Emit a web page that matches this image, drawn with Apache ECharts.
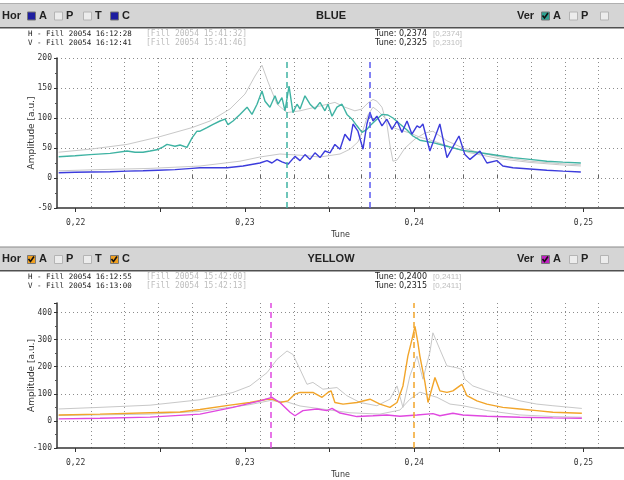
<!DOCTYPE html>
<html><head><meta charset="utf-8">
<script src="https://cdn.jsdelivr.net/npm/echarts@6/dist/echarts.min.js"></script>
<style>html,body{margin:0;padding:0;background:#fff}#c{width:624px;height:480px}</style>
</head><body><div id="c"></div>
<script>
// ---------- DATA (tune, amplitude [a.u.]) ----------
// BLUE beam
const blueHTune = [0.2190,0.21997,0.22085,0.22204,0.22304,0.22398,0.22487,0.22587,0.22688,0.22735,0.22812,0.22895,0.22989,0.23089,0.23131,0.23160,0.23190,0.23219,0.23255,0.23296,0.23326,0.23355,0.23385,0.23414,0.23444,0.23473,0.23503,0.23532,0.23562,0.23591,0.23621,0.23639,0.23668,0.23698,0.23721,0.23739,0.23757,0.23780,0.23810,0.23839,0.23869,0.23899,0.23928,0.23958,0.23987,0.24017,0.24034,0.24052,0.24093,0.24152,0.24194,0.24265,0.24300,0.24330,0.24389,0.24430,0.24489,0.24524,0.24584,0.24684,0.24784,0.24879,0.24985];
const blueHAmp  = [8.7,9.5,10,10.5,11.4,12,13,14,16,17,17,17,20,25,29,25,31,27,23,36,29,39,31,42,34,45,42,56,48,73,62,90,78,48,90,109,95,103,87,98,81,95,76,95,73,87,84,90,45,90,34,70,39,31,45,25,29,20,17,15,13,11.4,10];
const blueVTune = [0.2190,0.21997,0.22085,0.22204,0.22304,0.22351,0.22398,0.22440,0.22487,0.22517,0.22540,0.22587,0.22617,0.22658,0.22688,0.22717,0.22735,0.22776,0.22812,0.22853,0.22883,0.22900,0.22930,0.22971,0.23013,0.23042,0.23072,0.23101,0.23119,0.23148,0.23178,0.23196,0.23219,0.23237,0.23261,0.23284,0.23308,0.23326,0.23355,0.23385,0.23414,0.23444,0.23473,0.23491,0.23515,0.23544,0.23574,0.23603,0.23633,0.23662,0.23692,0.23721,0.23739,0.23769,0.23810,0.23845,0.23875,0.23916,0.23958,0.23993,0.24034,0.24111,0.24194,0.24288,0.24389,0.24489,0.24584,0.24684,0.24784,0.24879,0.24985];
const blueVAmp  = [35.5,37,39,41,45,43,43,45,47.6,52,56,53,55,51,67,78,78,84,89.5,95,98,89,95,106,118,106,123,145,128,118,137,123,134,112,153,109,123,115,137,123,115,126,112,123,103,118,123,106,98,87,76,81,87,95,106,105,100,90,80,70,63,59,53,46,42,38,34,31,28,26.5,25];
const blueRefVTune = [0.2190,0.22085,0.22304,0.22499,0.22688,0.22794,0.22912,0.23001,0.23060,0.23101,0.23137,0.23190,0.23249,0.23326,0.23444,0.23532,0.23591,0.23650,0.23692,0.23727,0.23757,0.23780,0.23810,0.23839,0.23857,0.23875,0.23899,0.23946,0.24005,0.24064,0.24111,0.24194,0.24288,0.24389,0.24507,0.24684,0.24861,0.24985];
const blueRefVAmp  = [43,48,56,69,84,95,115,140,170,188,160,123,109,112,120,126,118,112,115,125,131,128,118,90,55,28,30,50,65,75,78,62,50,42,35,28,24,22];
const blueRefHTune = [0.2190,0.22144,0.22440,0.22735,0.22971,0.23089,0.23207,0.23326,0.23444,0.23562,0.23621,0.23668,0.23698,0.23727,0.23757,0.23786,0.23828,0.23869,0.23916,0.23975,0.24034,0.24111,0.24212,0.24330,0.24507,0.24684,0.24861,0.24985];
const blueRefHAmp  = [12,14,16,20,28,35,40,38,35,40,48,60,80,105,118,112,100,85,80,75,68,62,52,42,32,26,22,20];
// YELLOW beam
const yelHTune = [0.2190,0.22144,0.22440,0.22617,0.22735,0.22912,0.23030,0.23131,0.23160,0.23207,0.23255,0.23296,0.23326,0.23402,0.23456,0.23491,0.23509,0.23532,0.23580,0.23662,0.23739,0.23798,0.23857,0.23899,0.23934,0.23963,0.23987,0.24005,0.24022,0.24034,0.24064,0.24082,0.24123,0.24152,0.24194,0.24229,0.24282,0.24312,0.24371,0.24430,0.24524,0.24625,0.24725,0.24820,0.24991];
const yelHAmp  = [22,25,30,33,42,58,68,80,80,68,74,99,105,105,87,105,111,68,62,68,80,62,50,68,129,239,300,349,290,239,142,68,160,111,105,111,135,93,74,62,50,44,38,32,28];
const yelVTune = [0.2190,0.22144,0.22440,0.22735,0.22930,0.23089,0.23160,0.23207,0.23267,0.23296,0.23343,0.23426,0.23485,0.23515,0.23562,0.23662,0.23757,0.23839,0.23916,0.24017,0.24111,0.24152,0.24229,0.24288,0.24430,0.24625,0.24820,0.24991];
const yelVAmp  = [7.3,10,14,25,50,74,87,68,32,19,38,44,38,46,29,16,19,22,17,22,27,19,28,22,17,13.5,11,10];
const yelRefHTune = [0.2190,0.22144,0.22440,0.22735,0.22930,0.23030,0.23131,0.23190,0.23249,0.23284,0.23326,0.23367,0.23402,0.23461,0.23544,0.23603,0.23680,0.23780,0.23857,0.23899,0.23934,0.23975,0.24017,0.24052,0.24093,0.24111,0.24152,0.24194,0.24253,0.24282,0.24300,0.24347,0.24430,0.24524,0.24625,0.24725,0.24820,0.24991];
const yelRefHAmp  = [44,50,58,78,105,129,178,227,258,245,190,135,142,117,123,93,68,56,80,129,50,166,239,154,253,325,264,203,196,190,154,129,111,93,74,62,56,46];
const yelRefVTune = [0.2190,0.22440,0.22735,0.23030,0.23148,0.23249,0.23326,0.23444,0.23621,0.23798,0.23916,0.23975,0.24034,0.24135,0.24212,0.24288,0.24430,0.24625,0.24820,0.24991];
const yelRefVAmp  = [20,25,35,60,75,70,55,45,30,25,40,80,106,87,62,56,38,22,16,13.5];
// cursors (tune)
const blueCursorH = 0.2374, blueCursorV = 0.2325;
const yelCursorH = 0.2400, yelCursorV = 0.2315;
// axis ranges / ticks
const X_MIN = 0.2189, X_MAX = 0.2524, X_GRID_STEP = 0.002, X_GRID_SHIFT = 0.0011;
const topY = {min: -50, max: 200, step: 50};
const botY = {min: -100, max: 435, step: 100};

// ---------- CHART ----------
const chart = echarts.init(document.getElementById('c'), null, {renderer: 'canvas'});
const FONT_MONO = 'DejaVu Sans Mono';
const DOT = {color: '#8c8c8c', width: 1, type: [1, 3]};

function mainX(gi) {
  return {
    type: 'value', gridIndex: gi, min: X_MIN, max: X_MAX, minInterval: 0.005, maxInterval: 0.005,
    position: 'bottom',
    axisLine: {show: true, onZero: false, lineStyle: {color: '#333', width: 1.5}},
    axisTick: {show: true, length: 4, lineStyle: {color: '#333'}},
    axisLabel: {
      showMinLabel: false, showMaxLabel: false, margin: 11, color: '#333', fontSize: 8, fontFamily: FONT_MONO,
      formatter: v => (Math.abs(v * 100 - Math.round(v * 100)) < 1e-6) ? v.toFixed(2).replace('.', ',') : ''
    },
    splitLine: {show: false},
    name: 'Tune', nameLocation: 'middle', nameGap: 23, nameMoveOverlap: false,
    nameTextStyle: {color: '#333', fontSize: 8, fontFamily: 'DejaVu Sans'}
  };
}
function gridX(gi) {
  const mn = +(X_MIN + X_GRID_SHIFT).toFixed(4);
  return {
    type: 'value', gridIndex: gi, min: mn, max: +(X_MAX + X_GRID_SHIFT).toFixed(4), interval: X_GRID_STEP,
    position: 'bottom',
    axisLine: {show: false}, axisLabel: {show: false},
    axisTick: {show: true, inside: true, length: 3, lineStyle: {color: '#666'}},
    splitLine: {show: true, showMinLine: false, showMaxLine: false, lineStyle: DOT}
  };
}
function yAx(gi, r) {
  return {
    type: 'value', gridIndex: gi, min: r.min, max: r.max, interval: r.step,
    axisLine: {show: true, lineStyle: {color: '#333', width: 1.5}},
    axisTick: {show: true, length: 3, lineStyle: {color: '#333'}},
    minorTick: {show: true, splitNumber: 2, length: 2, lineStyle: {color: '#555'}},
    axisLabel: {showMaxLabel: r.max % r.step === 0, margin: 5, color: '#333', fontSize: 8, fontFamily: FONT_MONO},
    splitLine: {show: true, showMinLine: false, showMaxLine: r.max % r.step === 0, lineStyle: DOT},
    name: 'Amplitude [a.u.]', nameLocation: 'middle', nameRotate: 90, nameGap: 21, nameMoveOverlap: false,
    nameTextStyle: {color: '#333', fontSize: 9, fontFamily: 'DejaVu Sans'}
  };
}
function line(tunes, amps, color, width, xi, yi, z, cursor, cursorColor) {
  const s = {
    type: 'line', xAxisIndex: xi, yAxisIndex: yi, z: z, showSymbol: false, symbol: 'none',
    animation: false, silent: true, clip: true,
    lineStyle: {color: color, width: width},
    data: tunes.map((t, i) => [t, amps[i]])
  };
  if (cursor != null) {
    s.markLine = {silent: true, symbol: 'none', animation: false, precision: 6, label: {show: false},
      lineStyle: {color: cursorColor, width: 1.5, type: [6, 4]}, data: [{xAxis: cursor}]};
  }
  return s;
}

// ---------- header graphics ----------
const el = [];
function rect(x, y, w, h, fill, stroke) {
  el.push({type: 'rect', silent: true, z: 100, shape: {x: x, y: y, width: w, height: h},
    style: {fill: fill, stroke: stroke || null, lineWidth: 1}});
}
function txt(s, x, y, font, fill, align) {
  el.push({type: 'text', silent: true, z: 101, x: x, y: y,
    style: {text: s, font: font, fill: fill, align: align || 'left', verticalAlign: 'middle',
      textAlign: align || 'left', textVerticalAlign: 'middle'}});
}
function check(x, y) {
  el.push({type: 'polyline', silent: true, z: 102,
    shape: {points: [[x + 1.5, y + 4], [x + 3.5, y + 6.5], [x + 7, y + 1.5]]},
    style: {stroke: '#111', lineWidth: 1.6, fill: null}});
}
function box(x, y, kind, color) {
  if (kind === 'empty') { rect(x + 0.5, y + 0.5, 8, 8, '#ececec', '#b4b4b4'); return; }
  rect(x + 0.5, y + 0.5, 8, 8, color, '#777');
  if (kind === 'check') check(x, y);
}
const BOLD = 'bold 11px "Liberation Sans"';
function header(y0, h, title, horKind, horColor, verColor, lines) {
  rect(0, y0, 624, h, '#d5d5d5');
  rect(0, y0 - 1, 624, 1, '#b0b0b0');
  rect(0, y0 + h, 624, 1.5, '#505050');
  const cy = y0 + h / 2, by = cy - 4;
  txt('Hor', 2, cy, BOLD, '#222');
  box(27, by, horKind, horColor); txt('A', 39, cy, BOLD, '#222');
  box(54, by, 'empty');           txt('P', 66, cy, BOLD, '#222');
  box(83, by, 'empty');           txt('T', 95, cy, BOLD, '#222');
  box(110, by, horKind, horColor); txt('C', 122, cy, BOLD, '#222');
  txt(title, 331, cy, BOLD, '#222', 'center');
  txt('Ver', 517, cy, BOLD, '#222');
  box(541, by, 'check', verColor); txt('A', 553, cy, BOLD, '#222');
  box(569, by, 'empty');           txt('P', 581, cy, BOLD, '#222');
  box(600, by, 'empty');
  const l1 = y0 + h + 7, l2 = y0 + h + 16;
  txt(lines[0], 28, l1, '7.5px "DejaVu Sans Mono"', '#222');
  txt(lines[1], 146, l1, '8px "DejaVu Sans Mono"', '#bdbdbd');
  txt(lines[2], 28, l2, '7.5px "DejaVu Sans Mono"', '#222');
  txt(lines[3], 146, l2, '8px "DejaVu Sans Mono"', '#bdbdbd');
  txt(lines[4], 375, l1, '8px "DejaVu Sans"', '#222');
  txt(lines[5], 433, l1, '8px "Liberation Sans"', '#bdbdbd');
  txt(lines[6], 375, l2, '8px "DejaVu Sans"', '#222');
  txt(lines[7], 433, l2, '8px "Liberation Sans"', '#bdbdbd');
}
header(4, 23, 'BLUE', 'fill', '#1e1ea0', '#2fa393',
  ['H - Fill 20054 16:12:28', '[Fill 20054 15:41:32]', 'V - Fill 20054 16:12:41', '[Fill 20054 15:41:46]',
   'Tune: 0,2374', '[0,2374]', 'Tune: 0,2325', '[0,2310]']);
header(248, 22, 'YELLOW', 'check', '#f0a020', '#c020c0',
  ['H - Fill 20054 16:12:55', '[Fill 20054 15:42:00]', 'V - Fill 20054 16:13:00', '[Fill 20054 15:42:13]',
   'Tune: 0,2400', '[0,2411]', 'Tune: 0,2315', '[0,2411]']);
// panel border
rect(0, 246, 624, 1, '#c4c4c4');

const GRAY = '#c8c8c8';
chart.setOption({
  animation: false,
  backgroundColor: '#ffffff',
  grid: [
    {left: 57, right: 0, top: 58, height: 150, containLabel: false},
    {left: 57, right: 0, top: 303, height: 146, containLabel: false}
  ],
  xAxis: [mainX(0), gridX(0), mainX(1), gridX(1)],
  yAxis: [yAx(0, topY), yAx(1, botY)],
  series: [
    line(blueRefVTune, blueRefVAmp, GRAY, 1, 0, 0, 2),
    line(blueRefHTune, blueRefHAmp, GRAY, 1, 0, 0, 2),
    line(blueVTune, blueVAmp, '#3fb3a3', 1.4, 0, 0, 3, blueCursorV, '#3fb3a3'),
    line(blueHTune, blueHAmp, '#3c3cdc', 1.4, 0, 0, 4, blueCursorH, '#5a5af0'),
    line(yelRefHTune, yelRefHAmp, GRAY, 1, 2, 1, 2),
    line(yelRefVTune, yelRefVAmp, GRAY, 1, 2, 1, 2),
    line(yelHTune, yelHAmp, '#f2a52a', 1.4, 2, 1, 3, yelCursorH, '#f2a52a'),
    line(yelVTune, yelVAmp, '#e048e0', 1.4, 2, 1, 4, yelCursorV, '#e048e0')
  ],
  graphic: {elements: el}
});
</script></body></html>
